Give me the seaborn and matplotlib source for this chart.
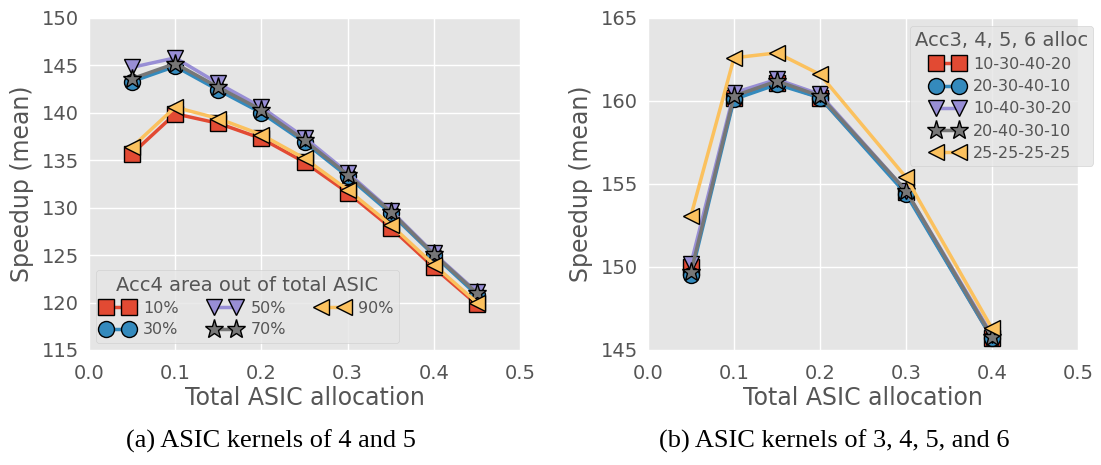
import matplotlib
matplotlib.use("Agg")
import matplotlib.pyplot as plt
import seaborn as sns
import pandas as pd

# ---- data ----
x_a = [0.05, 0.10, 0.15, 0.20, 0.25, 0.30, 0.35, 0.40, 0.45]
labels_a = ["10%", "30%", "50%", "70%", "90%"]
acc4_10 = [135.7, 139.9, 138.9, 137.3, 134.8, 131.6, 127.9, 123.7, 119.8]
acc4_30 = [143.3, 144.9, 142.4, 140.0, 136.9, 133.3, 129.4, 125.0, 120.8]
acc4_50 = [144.8, 145.8, 143.1, 140.6, 137.4, 133.7, 129.7, 125.2, 121.1]
acc4_70 = [143.6, 145.2, 142.7, 140.3, 137.1, 133.5, 129.6, 125.1, 121.0]
acc4_90 = [136.4, 140.6, 139.4, 137.7, 135.2, 131.9, 128.2, 124.0, 120.0]

x_b = [0.05, 0.10, 0.15, 0.20, 0.30, 0.40]
labels_b = ["10-30-40-20", "20-30-40-10", "10-40-30-20", "20-40-30-10", "25-25-25-25"]
alloc_1 = [150.0, 160.2, 161.1, 160.2, 154.5, 145.7]
alloc_2 = [149.5, 160.1, 161.0, 160.2, 154.4, 145.7]
alloc_3 = [150.2, 160.5, 161.3, 160.4, 154.6, 145.9]
alloc_4 = [149.7, 160.3, 161.2, 160.3, 154.6, 145.8]
alloc_5 = [153.1, 162.6, 162.9, 161.6, 155.4, 146.3]

xticks = [0.0, 0.1, 0.2, 0.3, 0.4, 0.5]
yticks_a = [115, 120, 125, 130, 135, 140, 145, 150]
yticks_b = [145, 150, 155, 160, 165]

colors = ["#E24A33", "#348ABD", "#988ED5", "#777777", "#FBC15E"]
markers = ["s", "o", "v", "*", "<"]

plt.style.use("ggplot")
sns.set_style(rc={"axes.facecolor": "#E5E5E5", "grid.color": "white"})

W, H = 1101, 465
fig = plt.figure(figsize=(W / 100, H / 100), dpi=100)
axA = fig.add_axes([89 / W, 1 - 350 / H, 431 / W, 332 / H])
axB = fig.add_axes([648 / W, 1 - 350 / H, 430 / W, 332 / H])

def draw(ax, x, series, labels):
    for i, (ys, lab) in enumerate(zip(series, labels)):
        df = pd.DataFrame({"x": x, "y": ys})
        ms = 14 if markers[i] == "*" else 11.5
        sns.lineplot(data=df, x="x", y="y", ax=ax, color=colors[i], marker=markers[i],
                     markersize=ms, markeredgecolor="black", markeredgewidth=1.0,
                     linewidth=2.5, label=lab, zorder=3 + i)

draw(axA, x_a, [acc4_10, acc4_30, acc4_50, acc4_70, acc4_90], labels_a)
draw(axB, x_b, [alloc_1, alloc_2, alloc_3, alloc_4, alloc_5], labels_b)

for ax, yt in ((axA, yticks_a), (axB, yticks_b)):
    ax.set_xlim(0, 0.5)
    ax.set_ylim(yt[0], yt[-1])
    ax.set_xticks(xticks)
    ax.set_yticks(yt)
    ax.set_xticklabels([f"{v:.1f}" for v in xticks])
    ax.tick_params(labelsize=14, colors="#555555", length=0)
    ax.tick_params(axis="x", pad=10)
    ax.tick_params(axis="y", pad=7)
    ax.set_xlabel("Total ASIC allocation", fontsize=17, color="#555555", labelpad=2)
    ax.set_ylabel("Speedup (mean)", fontsize=17, color="#555555", labelpad=6)
    ax.grid(True, color="white", linewidth=1.0)
    ax.set_axisbelow(True)
    for s in ax.spines.values():
        s.set_visible(False)

legA = axA.legend(title="Acc4 area out of total ASIC", ncol=3, numpoints=2,
                  loc="lower left", bbox_to_anchor=(0.016, 0.021), borderaxespad=0,
                  fontsize=11.5, title_fontsize=14, labelcolor="#555555",
                  handlelength=2.0, columnspacing=1.9, handletextpad=0.6,
                  labelspacing=0.4, borderpad=0.35)
legA.get_title().set_color("#555555")

legB = axB.legend(title="Acc3, 4, 5, 6 alloc", ncol=1, numpoints=2,
                  loc="upper left", bbox_to_anchor=(910 / W, 1 - 26 / H),
                  bbox_transform=fig.transFigure, borderaxespad=0,
                  fontsize=11.5, title_fontsize=14, labelcolor="#555555",
                  handlelength=2.0, handletextpad=0.6, labelspacing=0.45, borderpad=0.3)
legB.get_title().set_color("#555555")

fig.text(271 / W, 1 - 441 / H, "(a) ASIC kernels of 4 and 5", ha="center", va="center",
         fontsize=19, family="Liberation Serif", color="black")
fig.text(834 / W, 1 - 441 / H, "(b) ASIC kernels of 3, 4, 5, and 6", ha="center", va="center",
         fontsize=19, family="Liberation Serif", color="black")

fig.savefig("out.png", dpi=100)
